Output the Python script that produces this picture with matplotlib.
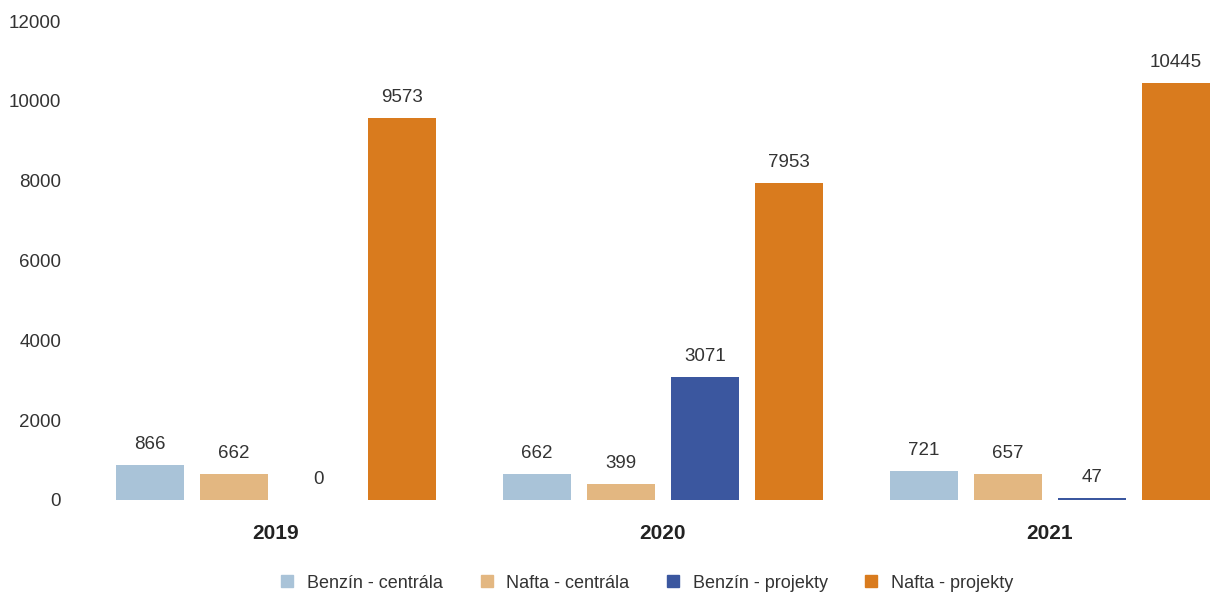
import matplotlib
matplotlib.use("Agg")
import matplotlib.pyplot as plt
import numpy as np
from matplotlib.lines import Line2D

years = ["2019", "2020", "2021"]
series = ["Benzín - centrála", "Nafta - centrála", "Benzín - projekty", "Nafta - projekty"]
benzin_centrala = [866, 662, 721]
nafta_centrala = [662, 399, 657]
benzin_projekty = [0, 3071, 47]
nafta_projekty = [9573, 7953, 10445]
colors = ["#a9c3d8", "#e3b781", "#3b579f", "#d97b1e"]

plt.rcParams['font.family'] = ['Liberation Sans', 'DejaVu Sans']

fig = plt.figure(figsize=(12.1, 5.95), dpi=100)
ax = fig.add_axes([75/1210, 95/595, 1 - 75/1210, 479/595])

values = [benzin_centrala, nafta_centrala, benzin_projekty, nafta_projekty]
x = np.arange(len(years))
step = 84/387
width = 68/387
offsets = [-1.5*step, -0.5*step, 0.5*step, 1.5*step]
for vals, off, c in zip(values, offsets, colors):
    ax.bar(x + off, vals, width=width, color=c)
    for xi, v in zip(x, vals):
        ax.text(xi + off, v + 300, f"{v}", ha="center", va="bottom",
                fontsize=13.5, color="#333333")

ax.set_xlim(-201/387, 934/387)
ax.set_ylim(0, 12000)
ax.set_yticks(range(0, 12001, 2000))
ax.set_xticks(x)
ax.set_xticklabels(years, fontsize=15, fontweight="bold", color="#222222")
ax.tick_params(axis="both", length=0)
ax.tick_params(axis="x", pad=17)
ax.tick_params(axis="y", pad=10, labelsize=13.5, labelcolor="#333333")
for s in ax.spines.values():
    s.set_visible(False)

handles = [Line2D([0], [0], marker="s", linestyle="none", markersize=8,
                  markerfacecolor=c, markeredgecolor=c) for c in colors]
fig.legend(handles, series, loc="center", bbox_to_anchor=(0.530, 1 - 583/595),
           ncol=4, frameon=False, fontsize=13, handletextpad=0.1,
           columnspacing=1.4, labelcolor="#333333")

fig.savefig("out.png", dpi=100)
